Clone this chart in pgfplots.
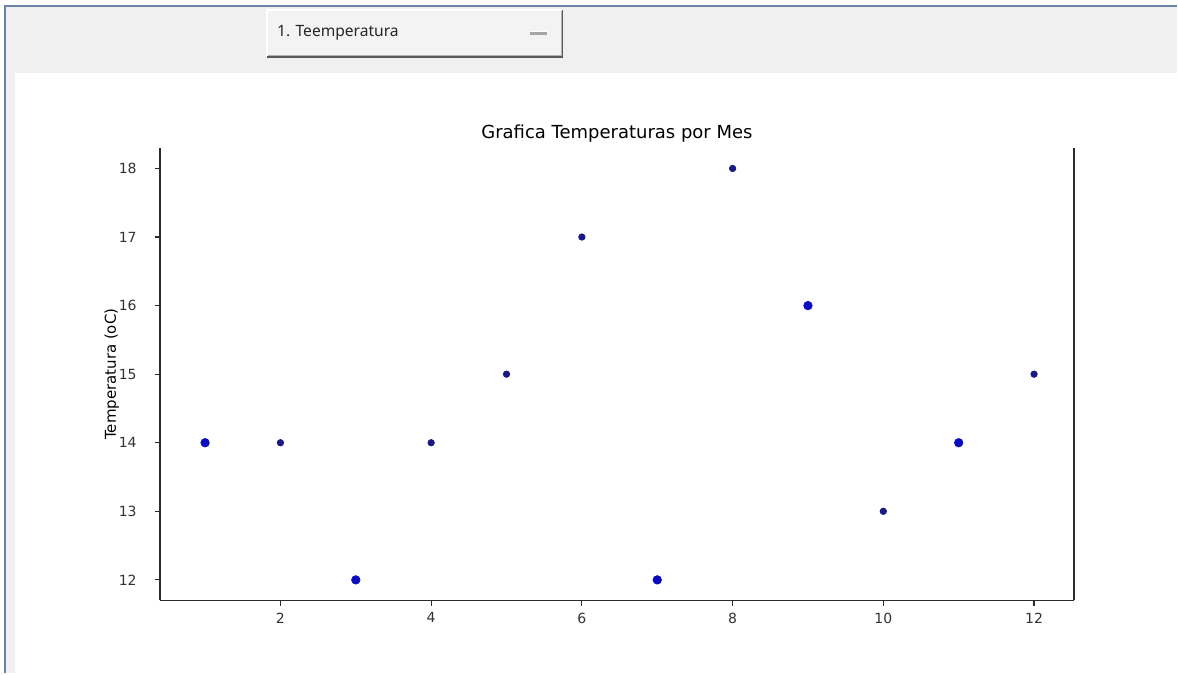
\documentclass[border=0pt]{standalone}
\usepackage{pgfplots}
\pgfplotsset{compat=1.18}
\usepackage{fontspec}
\setmainfont{DejaVu Sans}
\newfontfamily\tkfont{Noto Sans}
\definecolor{tkgray}{HTML}{F0F0F0}
\definecolor{frame}{HTML}{6A86A4}
\definecolor{spine}{HTML}{2B2B2B}
\definecolor{bigdot}{HTML}{0A0ABE}
\definecolor{smalldot}{HTML}{1A1A82}
\begin{document}
\begin{tikzpicture}
% window background
\fill[white] (0pt,0pt) rectangle (589pt,-337pt);
\fill[tkgray] (2.5pt,-3.5pt) rectangle (589pt,-36.5pt);
\fill[tkgray] (2.5pt,-3.5pt) rectangle (7.3pt,-337pt);
\draw[frame, line width=1.1pt] (2.5pt,-337pt) -- (2.5pt,-3pt) -- (589pt,-3pt);
% option menu button
\fill[tkgray!80!white] (133.5pt,-5pt) rectangle (281.5pt,-28.5pt);
\draw[white, line width=0.8pt] (133.5pt,-28.5pt) -- (133.5pt,-5pt) -- (281.5pt,-5pt);
\draw[black!65, line width=0.9pt] (133.5pt,-28.5pt) -- (281.5pt,-28.5pt) -- (281.5pt,-5pt);
\draw[black!30, line width=0.5pt] (134.3pt,-27.8pt) -- (280.8pt,-27.8pt) -- (280.8pt,-5.6pt);
\node[anchor=west, inner sep=0pt, text=black!85] at (138.5pt,-16.6pt) {\tkfont\fontsize{7.8}{9}\selectfont 1. Teemperatura};
\fill[black!35] (265pt,-16.2pt) rectangle (274pt,-17.4pt);
\draw[white, line width=0.4pt] (265pt,-15.9pt) -- (274pt,-15.9pt);
% chart
\begin{axis}[
  scale only axis,
  width=457.5pt, height=226.5pt,
  at={(80pt,-300.5pt)}, anchor=south west,
  xmin=0.40, xmax=12.53, ymin=11.7, ymax=18.3,
  axis x line*=bottom, axis y line*=left,
  axis line style={spine, line width=0.75pt},
  xtick={2,4,6,8,10,12},
  ytick={12,13,14,15,16,17,18},
  tick align=outside,
  major tick length=2.6pt,
  tick style={spine, line width=0.6pt},
  ticklabel style={font=\fontsize{7}{8}\selectfont, text=black!80},
  yticklabel style={xshift=-5.5pt},
  /pgf/number format/assume math mode=true,
  title={Grafica Temperaturas por Mes},
  title style={font=\fontsize{9}{11}\selectfont, at={(axis description cs:0.5,1)}, anchor=center, yshift=1pt},
  ylabel={Temperatura (oC)},
  ylabel style={font=\fontsize{7.5}{9}\selectfont, at={(axis description cs:-0.0525,0.5)}, anchor=center, rotate=0},
  clip=false,
]
\addplot[only marks, mark=*, mark size=2.1pt, mark options={draw=bigdot, fill=bigdot}]
  coordinates {(1,14) (3,12) (7,12) (9,16) (11,14)};
\addplot[only marks, mark=*, mark size=1.6pt, mark options={draw=smalldot, fill=smalldot}]
  coordinates {(2,14) (4,14) (5,15) (6,17) (8,18) (10,13) (12,15)};
\draw[spine, line width=0.75pt] (rel axis cs:1,0) -- (rel axis cs:1,1);
\end{axis}
\end{tikzpicture}
\end{document}
